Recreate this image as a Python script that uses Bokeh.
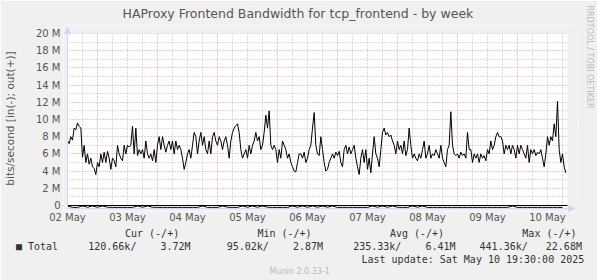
from bokeh.plotting import figure
from bokeh.models import (FixedTicker, Grid, Span, Range1d, Title, Arrow, NormalHead,
                          BoxAnnotation)
from bokeh.embed import file_html
from bokeh.resources import INLINE

# ---------------- data (M bits/s) ----------------
day_labels = ["02 May", "03 May", "04 May", "05 May", "06 May",
              "07 May", "08 May", "09 May", "10 May"]
y_tick_values = [0, 2, 4, 6, 8, 10, 12, 14, 16, 18, 20]
y_tick_labels = ["0", "2 M", "4 M", "6 M", "8 M", "10 M", "12 M", "14 M", "16 M", "18 M", "20 M"]

start_hour = 12.0          # 02 May 12:00, hours counted from 02 May 00:00
end_hour = 212.0           # 10 May 20:00
out_step_h = 2.0 / 3.0     # sample spacing of the out series (hours)
in_step_h = 2.0            # sample spacing of the in series (hours)

# out(+) traffic, 02 May 12:00 .. 06 May ~01:00
out_vals_a = [
    7.5, 7.2, 8.0, 7.6, 9.0, 8.8, 9.6, 9.2, 9.0, 5.6, 7.0, 5.0, 6.0, 4.8, 5.5, 4.5, 4.3, 3.6, 5.0, 4.5,
    6.0, 5.0, 6.2, 5.0, 6.3, 5.5, 4.2, 5.5, 5.2, 4.5, 7.0, 6.0, 5.5, 5.2, 7.0, 6.0, 7.0, 6.8, 7.0, 9.2,
    6.0, 9.0, 5.8, 6.5, 6.0, 6.5, 5.5, 7.5, 6.0, 5.5, 6.0, 5.2, 6.5, 5.0, 7.0, 8.0, 6.5, 8.0, 7.0, 6.2,
    7.0, 7.5, 6.5, 7.5, 6.0, 7.5, 6.5, 7.0, 6.5, 5.5, 4.2, 5.0, 6.0, 6.5, 5.5, 7.0, 8.5, 8.0, 6.0, 7.5,
    8.5, 7.0, 8.0, 6.5, 6.0, 7.5, 6.0, 8.0, 8.5, 7.5, 7.0, 8.0, 7.5, 6.5, 7.5, 8.0, 7.0, 5.5, 7.5, 8.5,
    9.0, 9.3, 9.5, 8.5, 6.5, 5.5, 6.0, 6.5, 5.5, 7.0, 6.0, 7.0, 7.5, 8.5, 7.5, 8.0, 6.5, 7.0, 8.5, 10.5,
    9.0, 11.0, 7.0, 6.5, 7.0, 6.5, 5.0, 6.5, 5.5, 7.5, 7.0, 6.5, 5.5, 6.0, 5.0, 4.5, 4.0, 3.9, 5.0, 6.0,
]
# out(+) traffic, 06 May ~01:00 .. 10 May ~19:30
out_vals_b = [
    6.0, 5.5, 6.2, 5.0, 5.5, 6.5, 7.0, 9.0, 10.8, 7.0, 6.0, 5.8, 8.0, 6.5, 5.0, 4.0, 4.2, 5.0, 5.5, 6.0,
    5.5, 6.2, 5.8, 6.3, 5.0, 4.5, 6.5, 7.0, 6.0, 6.8, 6.0, 6.5, 7.0, 5.5, 4.5, 3.6, 5.5, 6.5, 5.0, 6.5,
    4.2, 5.5, 3.8, 6.0, 8.0, 6.0, 5.5, 4.5, 6.5, 8.5, 9.0, 8.2, 8.5, 8.0, 8.2, 7.5, 7.0, 6.0, 7.5, 6.5,
    7.0, 6.0, 7.5, 5.8, 6.5, 9.0, 7.0, 5.5, 6.0, 5.5, 5.2, 6.0, 5.5, 6.5, 7.5, 5.5, 6.0, 7.0, 5.5, 6.0,
    5.8, 6.5, 6.0, 5.5, 7.0, 5.5, 5.0, 4.5, 6.5, 7.0, 10.9, 7.0, 6.0, 5.8, 6.0, 5.5, 6.2, 5.8, 6.0, 5.5,
    8.5, 6.5, 6.5, 5.0, 6.0, 5.5, 6.0, 5.0, 6.0, 5.5, 5.8, 5.2, 6.5, 6.0, 7.5, 6.5, 7.0, 8.0, 8.5, 8.0,
    8.0, 7.5, 6.0, 7.0, 6.5, 7.0, 6.0, 7.0, 6.5, 5.5, 7.0, 6.0, 7.0, 6.5, 6.0, 5.5, 7.0, 5.0, 6.5, 6.0,
    6.5, 5.8, 6.2, 6.0, 6.5, 5.5, 4.5, 6.0, 8.0, 7.0, 8.0, 7.5, 9.5, 8.0, 12.1, 6.5, 5.0, 6.0, 4.5, 3.8,
]
# in(-) traffic (drawn negative), every 2 hours
in_vals = [
    -0.06, -0.22, -0.22, -0.06, -0.20, -0.06, -0.20, -0.06, -0.20, -0.22,
    -0.22, -0.22, -0.22, -0.22, -0.06, -0.20, -0.06, -0.20, -0.22, -0.22,
    -0.22, -0.22, -0.22, -0.22, -0.22, -0.22, -0.22, -0.06, -0.22, -0.22,
    -0.22, -0.06, -0.20, -0.22, -0.22, -0.06, -0.20, -0.06, -0.20, -0.06,
    -0.20, -0.22, -0.22, -0.22, -0.22, -0.06, -0.20, -0.06, -0.20, -0.06,
    -0.20, -0.06, -0.20, -0.06, -0.22, -0.22, -0.22, -0.22, -0.22, -0.22,
    -0.22, -0.06, -0.20, -0.06, -0.20, -0.06, -0.20, -0.22, -0.22, -0.06,
    -0.20, -0.06, -0.22, -0.22, -0.22, -0.22, -0.22, -0.22, -0.22, -0.22,
    -0.22, -0.22, -0.22, -0.22, -0.22, -0.22, -0.22, -0.22, -0.22, -0.06,
    -0.22, -0.22, -0.22, -0.22, -0.22, -0.22, -0.22, -0.22, -0.22, -0.22,
]

legend_headers = ["Cur (-/+)", "Min (-/+)", "Avg (-/+)", "Max (-/+)"]
legend_name = "Total"
legend_values = ["120.66k/", "3.72M", "95.02k/", "2.87M", "235.33k/", "6.41M", "441.36k/", "22.68M"]
title_text = "HAProxy Frontend Bandwidth for tcp_frontend - by week"
y_label = "bits/second [in(-); out(+)]"
watermark = "RRDTOOL / TOBI OETIKER"
last_update = "Last update: Sat May 10 19:30:00 2025"
version_text = "Munin 2.0.33-1"

# ---------------- derived ----------------
out_vals = out_vals_a + out_vals_b
t_out = [start_hour + i * out_step_h for i in range(len(out_vals))]
t_in = [start_hour + i * in_step_h for i in range(len(in_vals))]
label_hours = [start_hour + 24 * k for k in range(len(day_labels))]
minor_x = [h for h in range(18, 212, 6) if h % 24 != 0]
major_x = [h for h in range(24, 212, 24)]
minor_y = [v for v in range(1, 20, 2)]
major_y = [v for v in range(2, 21, 2)]

NB = "\u00a0"


def mono_row(items):
    """items: list of (char_index, text) -> one monospaced string padded with NBSP."""
    s = ""
    for idx, txt in items:
        s += NB * max(0, idx - len(s)) + txt
    return s


header_row = mono_row(list(zip([0, 22, 44, 66], legend_headers)))
value_row = mono_row([(0, "\u25a0"), (2, legend_name)] +
                     list(zip([12, 24, 35, 46, 56, 68, 77, 88], legend_values)))

# ---------------- geometry ----------------
W, H = 597, 280
L, R, T, B = 63, 20, 25, 69          # frame is a bit larger than the graph area (room for arrows)
PX_PER_H = 2.5                       # 500 px for 200 h
PX_PER_M = 8.6
YMIN, YMAX = -0.35, 20.0             # graph area value range
X0 = start_hour - 4 / PX_PER_H
X1 = end_hour + 10 / PX_PER_H
Y0 = YMIN - 3 / PX_PER_M
Y1 = YMAX + 8 / PX_PER_M
BG = "#F0F0F0"
AXC = "#CFD6F8"
TXT = "#555555"
LEG = "#333333"

p = figure(width=W, height=H, output_backend="svg", toolbar_location=None,
           x_range=Range1d(X0, X1), y_range=Range1d(Y0, Y1),
           min_border_left=L, min_border_right=R, min_border_top=T, min_border_bottom=B)
p.background_fill_color = "white"
p.border_fill_color = BG
p.outline_line_color = None
p.xgrid.visible = False
p.ygrid.visible = False

for ax in (p.xaxis[0], p.yaxis[0]):
    ax.major_tick_line_color = None
    ax.minor_tick_line_color = None
    ax.major_tick_out = 0
    ax.major_tick_in = 0
    ax.axis_line_color = None
    ax.major_label_text_font = "DejaVu Sans"
    ax.major_label_text_font_size = "10px"
    ax.major_label_text_color = TXT

p.yaxis[0].ticker = FixedTicker(ticks=y_tick_values)
p.yaxis[0].major_label_overrides = {v: s for v, s in zip(y_tick_values, y_tick_labels)}
p.yaxis[0].major_label_standoff = 3
p.yaxis[0].axis_label = y_label
p.yaxis[0].axis_label_text_font = "DejaVu Sans"
p.yaxis[0].axis_label_text_font_size = "10.5px"
p.yaxis[0].axis_label_text_font_style = "normal"
p.yaxis[0].axis_label_text_color = TXT
p.yaxis[0].axis_label_standoff = 17
p.xaxis[0].ticker = FixedTicker(ticks=label_hours)
p.xaxis[0].major_label_overrides = {h: s for h, s in zip(label_hours, day_labels)}
p.xaxis[0].major_label_standoff = 0

GRAY = "#b8b8b8"
RED = "#e89090"
p.add_layout(Grid(dimension=0, ticker=FixedTicker(ticks=minor_x), grid_line_color=GRAY, grid_line_dash="1 2"))
p.add_layout(Grid(dimension=0, ticker=FixedTicker(ticks=major_x), grid_line_color=RED, grid_line_dash="1 2"))
p.add_layout(Grid(dimension=1, ticker=FixedTicker(ticks=minor_y), grid_line_color=GRAY, grid_line_dash="1 2"))
p.add_layout(Grid(dimension=1, ticker=FixedTicker(ticks=major_y), grid_line_color=RED, grid_line_dash="1 2"))
p.add_layout(Span(location=0, dimension="width", line_color="black", line_width=1, level="underlay"))

# cover the margin strips of the frame so that only the graph area is white
p.add_layout(BoxAnnotation(right=start_hour, fill_color=BG, fill_alpha=1, line_color=None, level="underlay"))
p.add_layout(BoxAnnotation(left=end_hour, fill_color=BG, fill_alpha=1, line_color=None, level="underlay"))
p.add_layout(BoxAnnotation(bottom=YMAX, fill_color=BG, fill_alpha=1, line_color=None, level="underlay"))
p.add_layout(BoxAnnotation(top=YMIN, fill_color=BG, fill_alpha=1, line_color=None, level="underlay"))

p.line(t_in, in_vals, line_color="black", line_width=1)
p.line(t_out, out_vals, line_color="black", line_width=1)

# axis lines with arrow heads
p.add_layout(Arrow(end=NormalHead(size=6, fill_color=AXC, line_color=AXC),
                   x_start=start_hour, y_start=YMIN, x_end=end_hour + 7 / PX_PER_H, y_end=YMIN,
                   line_color=AXC, line_width=1))
p.add_layout(Arrow(end=NormalHead(size=6, fill_color=AXC, line_color=AXC),
                   x_start=start_hour, y_start=YMIN, x_end=start_hour, y_end=YMAX + 6 / PX_PER_M,
                   line_color=AXC, line_width=1))


# ---------------- texts (side-panel titles) ----------------
def ttl(text, place, align="left", offset=0.0, standoff=0, font="DejaVu Sans",
        size="10px", color=TXT):
    t = Title(text=text, align=align, offset=offset, standoff=standoff,
              text_font=font, text_font_size=size, text_font_style="normal",
              text_color=color)
    p.add_layout(t, place)
    return t


p.title.text = ""
# above: spacer next to the frame, then the chart title
ttl(NB, "above", size="1px", standoff=2)
ttl(title_text, "above", offset=122 - L, size="12.5px")
# right: spacer next to the frame, then the watermark
ttl(NB, "right", size="1px", standoff=4)
ttl(watermark, "right", offset=5 - T, size="8px", color="#bbbbbb")
# below: legend rows
ttl(header_row, "below", offset=124.5 - L, font="DejaVu Sans Mono", color=LEG)
ttl(value_row, "below", offset=15.5 - L, font="DejaVu Sans Mono", color=LEG)
ttl(last_update, "below", offset=361.0 - L, font="DejaVu Sans Mono", color=LEG)
ttl(version_text, "below", offset=269.0 - L, size="8px", color="#bbbbbb")

open("out.html", "w").write(file_html(p, INLINE))
